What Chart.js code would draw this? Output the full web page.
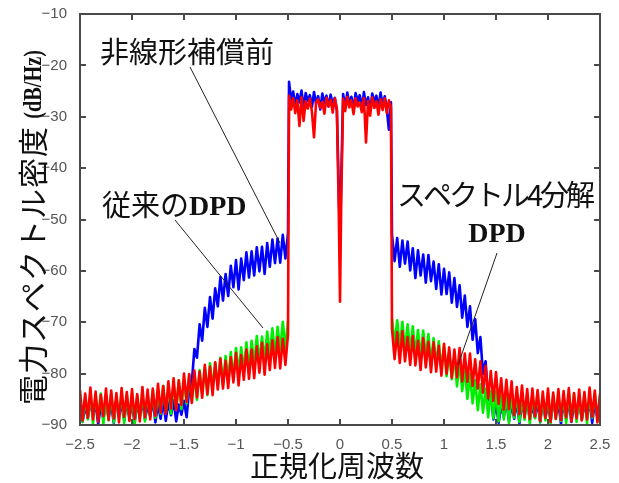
<!DOCTYPE html>
<html>
<head>
<meta charset="utf-8">
<script src="https://cdn.jsdelivr.net/npm/chart.js@4.4.0/dist/chart.umd.min.js"></script>
<style>
body { margin: 0; background: #fff; }
#wrap { width: 619px; height: 483px; }
</style>
</head>
<body>
<div id="wrap"><canvas id="psd"></canvas></div>
<script>
// 正規化周波数 の刻み (外側 / 帯域内)
var outerStep = 0.025;
var bandStep = 0.02;
var notchFreq = [-0.012, 0, 0.012];

// 非線形補償前 (青)
var blueOuterL = [
  -85.6, -89.4, -86.2, -88.7, -85.4, -88.2, -85.9, -89.8, -86.3, -88.9, -85.5, -88.5, -86.0, -89.6, -85.2, -87.9, -86.1, -89.1, -85.4, -88.6,
  -85.8, -89.7, -85.6, -88.4, -85.3, -89.0, -86.2, -88.3, -85.1, -89.5, -85.9, -88.8, -85.4, -89.2, -85.5, -88.1, -85.2, -89.3, -86.0, -88.0,
  -85.3, -88.5,
  -83.0, -81.8, -75.2, -76.9, -70.4, -73.6, -67.2, -70.9, -65.1, -69.3, -63.4, -66.9, -61.2, -65.8, -60.6, -64.9, -59.0, -63.2, -57.9, -63.6,
  -57.6, -61.8, -56.4, -61.3, -56.2, -60.9, -55.4, -60.1, -55.3, -60.6, -54.6, -59.2, -53.9, -58.5, -53.7, -58.4, -53.0, -57.6, -52.6
];
var blueBandL = [-23.2, -26.8, -25.1, -27.9, -25.6, -27.2, -24.9, -28.3, -25.4, -26.9, -25.8, -28.1, -25.2, -27.5, -26.0, -28.6, -25.5, -27.3, -25.9, -28.0, -25.7, -27.6, -26.3, -28.8];
var blueNotch = [-44, -55, -42];
var blueBandR = [-25.6, -28.2, -25.3, -27.4, -26.1, -28.7, -25.4, -27.0, -25.8, -28.4, -25.2, -27.7, -26.2, -28.9, -25.5, -27.1, -25.9, -28.3, -25.3, -27.8, -26.0, -28.5, -32.5, -27.2];
var blueOuterR = [
  -53.0, -58.1, -53.6, -59.2, -54.1, -58.6, -54.3, -59.9, -55.6, -61.4, -56.0, -60.9, -56.8, -62.3, -56.9, -62.0, -58.2, -63.5, -58.7, -64.6,
  -59.6, -64.5, -60.3, -66.2, -61.4, -67.0, -62.8, -69.1, -64.8, -70.9, -66.9, -73.4, -69.4, -76.0, -72.9, -80.1, -77.6, -85.2, -84.0,
  -88.9, -85.7, -89.6, -86.2, -88.4, -85.3, -89.3, -85.9, -88.8, -85.4, -89.7, -85.8, -88.2, -85.1, -89.1, -86.2, -88.6, -85.5, -89.5, -85.3,
  -88.7, -86.0, -89.2, -85.1, -88.3, -85.8, -89.8, -85.5, -88.9, -85.3, -89.4, -86.1, -88.1, -85.4, -89.0, -85.7, -88.5, -85.2, -89.6, -85.6,
  -88.4, -85.5
];

// 従来のDPD (緑)
var greenOuterL = [
  -84.0, -89.4, -84.5, -88.9, -83.7, -89.7, -84.2, -88.5, -83.9, -89.8, -84.6, -89.1, -83.8, -89.5, -84.4, -88.7, -83.6, -89.6, -84.1, -89.0,
  -83.9, -89.9, -84.3, -88.8, -83.8, -89.3, -83.9, -88.4, -83.2, -88.6, -83.4, -87.8, -82.4, -87.6, -82.6, -87.8, -81.9, -86.6, -81.3, -86.9,
  -81.1, -85.8, -80.2, -85.5, -80.4, -85.1, -79.3, -84.0, -78.9, -84.2, -78.0, -82.9, -77.9, -82.6, -76.9, -82.3, -76.6, -81.2, -75.8, -81.0,
  -75.0, -79.8, -74.9, -79.6, -73.9, -79.4, -73.6, -78.2, -72.7, -77.8, -72.8, -77.5, -71.8, -76.4, -71.2, -76.6, -70.9, -75.5, -69.9, -75.1,
  -69.8
];
var greenOuterR = [
  -69.2, -74.4, -69.6, -74.8, -69.9, -75.6, -70.4, -75.6, -70.8, -76.3, -71.5, -76.9, -71.6, -76.9, -72.3, -78.2, -73.1, -78.4, -73.7, -79.4,
  -74.6, -80.5, -75.6, -81.1, -76.4, -82.5, -77.8, -83.4, -78.9, -84.9, -80.0, -85.8, -81.3, -87.1, -82.1, -87.6, -82.9, -88.5, -83.4, -88.7,
  -83.5, -89.3, -84.2, -88.9, -83.8, -89.6, -84.0, -88.6, -83.7, -89.4, -84.4, -89.0, -83.9, -89.8, -84.1, -88.7, -83.6, -89.5, -84.5, -89.1,
  -83.8, -89.7, -84.2, -88.8, -83.9, -89.2, -84.3, -89.6, -83.7, -88.9, -84.0, -89.4, -84.6, -89.0, -83.8, -89.7, -84.1, -88.6, -83.9, -89.3,
  -84.4
];

// スペクトル4分解DPD (赤)
var redOuterL = [
  -83.2, -89.1, -83.9, -88.6, -82.7, -88.9, -83.5, -89.4, -84.1, -88.3, -82.9, -89.0, -83.3, -88.7, -83.8, -89.5, -82.8, -88.4, -83.6, -89.2,
  -83.0, -88.8, -84.0, -89.3, -82.6, -88.5, -83.1, -88.9, -82.9, -88.2, -82.0, -87.6, -82.4, -87.8, -81.5, -86.8, -80.9, -87.1, -81.3, -86.1,
  -80.0, -85.5, -80.1, -85.7, -79.4, -84.6, -79.6, -84.7, -78.3, -84.0, -78.6, -84.2, -77.8, -83.1, -77.1, -82.9, -77.5, -82.8, -76.8, -81.7,
  -76.0, -82.3, -76.4, -81.2, -75.3, -81.0, -75.3, -80.9, -74.7, -79.8, -74.0, -80.2, -74.3, -79.3, -73.5, -78.9, -72.9, -79.0, -73.2, -78.3,
  -72.4
];
var redBandL = [-25.9, -28.6, -26.4, -29.3, -26.8, -31.8, -26.2, -30.8, -27.0, -28.4, -26.5, -29.0, -34.0, -27.2, -26.6, -28.3, -27.1, -29.4, -26.3, -28.0, -26.7, -29.2, -26.4, -28.5];
var redNotch = [-48, -66, -46];
var redBandR = [-26.5, -28.9, -26.1, -28.2, -26.8, -29.5, -26.4, -28.0, -27.2, -29.1, -26.3, -35.0, -26.9, -29.8, -26.2, -28.3, -27.0, -29.6, -26.6, -28.7, -26.4, -29.3, -26.8, -28.1];
var redOuterR = [
  -71.3, -77.2, -71.9, -77.9, -71.7, -77.6, -72.9, -78.3, -72.7, -78.4, -73.6, -79.3, -73.1, -78.8, -73.8, -79.7, -73.9, -79.6, -74.6, -80.4,
  -74.2, -80.0, -74.9, -80.8, -75.3, -80.7, -75.0, -81.5, -76.1, -81.6, -76.1, -82.4, -77.2, -82.9, -77.6, -83.7, -78.5, -84.8, -79.5, -85.3,
  -79.7, -85.9, -80.9, -87.0, -81.2, -86.9, -81.5, -88.1, -82.6, -87.9, -82.3, -88.5, -83.0, -88.8, -82.9, -88.3, -83.2, -89.2, -83.5, -88.6,
  -82.9, -89.4, -83.7, -88.8, -83.0, -89.0, -83.4, -88.5, -82.8, -89.3, -83.8, -88.7, -83.1, -89.1, -83.6, -88.9, -82.7, -88.4, -83.3, -89.5,
  -83.9
];

var xTicks = [-2.5, -2, -1.5, -1, -0.5, 0, 0.5, 1, 1.5, 2, 2.5];
var yTicks = [-90, -80, -70, -60, -50, -40, -30, -20, -10];

function seg(x0, dx, ys) {
    var pts = [];
    for (let i = 0; i < ys.length; i++) {
        pts.push({ x: x0 + i * dx, y: ys[i] });
    }
    return pts;
}

function notch(ys) {
    var pts = [];
    for (let i = 0; i < ys.length; i++) {
        pts.push({ x: notchFreq[i], y: ys[i] });
    }
    return pts;
}

var blueData = [].concat(seg(-2.5, outerStep, blueOuterL), seg(-0.49, bandStep, blueBandL), notch(blueNotch), seg(0.03, bandStep, blueBandR), seg(0.5, outerStep, blueOuterR));
var redData = [].concat(seg(-2.5, outerStep, redOuterL), seg(-0.49, bandStep, redBandL), notch(redNotch), seg(0.03, bandStep, redBandR), seg(0.5, outerStep, redOuterR));
var greenData = [].concat(seg(-2.5, outerStep, greenOuterL), [{ x: 0, y: null }], seg(0.5, outerStep, greenOuterR));

var JP = '"Noto Sans CJK JP", sans-serif';
var SERIF = '"Liberation Serif", "Times New Roman", serif';

// 枠・内向き目盛り・注釈
var decor = {
    id: 'decor',
    afterDraw: function (chart) {
        var ctx = chart.ctx;
        var a = chart.chartArea;
        var xs = chart.scales.x, ys = chart.scales.y;
        ctx.save();
        ctx.strokeStyle = '#4a4a4a';
        ctx.lineWidth = 2;
        ctx.strokeRect(a.left, a.top, a.right - a.left, a.bottom - a.top);
        ctx.beginPath();
        xTicks.forEach(function (v) {
            var px = Math.round(xs.getPixelForValue(v));
            ctx.moveTo(px, a.bottom); ctx.lineTo(px, a.bottom - 6);
            ctx.moveTo(px, a.top); ctx.lineTo(px, a.top + 6);
        });
        yTicks.forEach(function (v) {
            var py = Math.round(ys.getPixelForValue(v));
            ctx.moveTo(a.left, py); ctx.lineTo(a.left + 6, py);
            ctx.moveTo(a.right, py); ctx.lineTo(a.right - 6, py);
        });
        ctx.stroke();

        // 引き出し線
        ctx.strokeStyle = '#222';
        ctx.lineWidth = 1;
        ctx.beginPath();
        ctx.moveTo(190, 67); ctx.lineTo(280, 243);
        ctx.moveTo(175, 220); ctx.lineTo(263, 328);
        ctx.moveTo(497, 253); ctx.lineTo(458, 365);
        ctx.stroke();

        ctx.fillStyle = '#111';
        ctx.textAlign = 'left';
        ctx.textBaseline = 'middle';
        ctx.font = '29px ' + JP;
        ctx.fillText('非線形補償前', 100, 52);
        ctx.fillText('従来の', 102, 205);
        var w = ctx.measureText('従来の').width;
        ctx.textBaseline = 'alphabetic';
        ctx.font = 'bold 28px ' + SERIF;
        ctx.fillText('DPD', 102 + w, 215);
        ctx.textAlign = 'center';
        ctx.fillText('DPD', 497, 242);

        ctx.textAlign = 'left';
        ctx.textBaseline = 'middle';
        ctx.font = '29px ' + JP;
        ctx.letterSpacing = '-3px';
        ctx.fillText('スペクトル4分解', 397, 195);
        ctx.letterSpacing = '0px';

        // 軸ラベル
        ctx.textAlign = 'center';
        ctx.fillText('正規化周波数', 337, 466);

        ctx.translate(33, 405);
        ctx.rotate(-Math.PI / 2);
        ctx.textAlign = 'left';
        ctx.font = '30px ' + JP;
        ctx.letterSpacing = '1px';
        ctx.fillText('電力スペクトル密度', 0, 0);
        ctx.letterSpacing = '0px';
        // (dB/Hz) は縦長の書体なので横に詰める
        ctx.translate(355, 1);
        ctx.scale(0.78, 1);
        ctx.font = 'bold 26px ' + SERIF;
        ctx.textAlign = 'right';
        ctx.fillText('(dB/Hz)', 0, 0);
        ctx.restore();
    }
};

var tickFont = { family: '"Liberation Sans", Arial, sans-serif', size: 15 };

var ctx = document.getElementById('psd').getContext('2d');
var chart = new Chart(ctx, {
    type: 'line',
    data: {
        datasets: [{
            label: 'スペクトル4分解DPD',
            data: redData,
            borderColor: '#ff0000',
            borderWidth: 2.6
        }, {
            label: '従来のDPD',
            data: greenData,
            borderColor: '#00ee00',
            borderWidth: 2.6
        }, {
            label: '非線形補償前',
            data: blueData,
            borderColor: '#0000ff',
            borderWidth: 2.6
        }]
    },
    options: {
        responsive: true,
        maintainAspectRatio: false,
        animation: false,
        spanGaps: false,
        elements: { point: { radius: 0 }, line: { tension: 0, borderJoinStyle: 'round' } },
        layout: { padding: { top: 12, right: 19, left: 0, bottom: 0 } },
        scales: {
            x: {
                type: 'linear',
                min: -2.5,
                max: 2.5,
                afterFit: function (s) { s.height = 58; },
                afterBuildTicks: function (s) { s.ticks = xTicks.map(function (v) { return { value: v }; }); },
                grid: { display: false },
                border: { display: false },
                ticks: {
                    padding: 3,
                    color: '#555',
                    font: tickFont,
                    callback: function (v) { return String(v).replace('-', '\u2212'); }
                }
            },
            y: {
                min: -90,
                max: -10,
                afterFit: function (s) { s.width = 80; },
                afterBuildTicks: function (s) { s.ticks = yTicks.map(function (v) { return { value: v }; }); },
                grid: { display: false },
                border: { display: false },
                ticks: {
                    padding: 5,
                    color: '#555',
                    font: tickFont,
                    callback: function (v) { return String(v).replace('-', '\u2212'); }
                }
            }
        },
        plugins: {
            legend: { display: false },
            tooltip: { enabled: false }
        }
    },
    plugins: [decor]
});
</script>
</body>
</html>
